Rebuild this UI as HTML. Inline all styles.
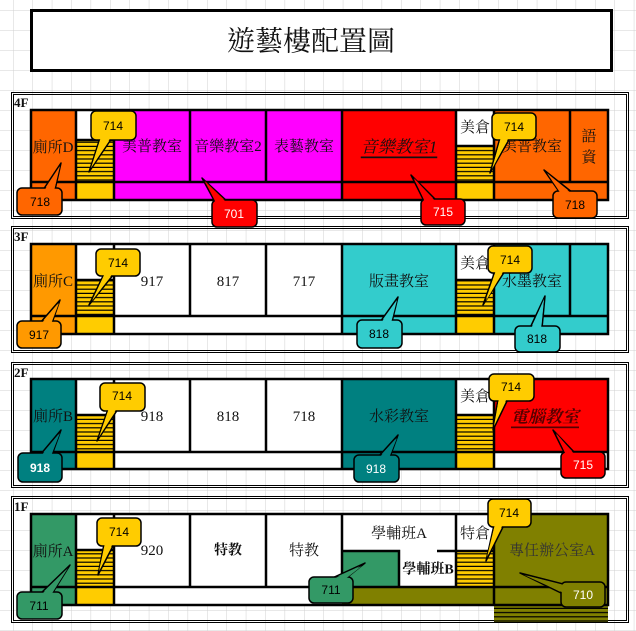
<!DOCTYPE html>
<html><head><meta charset="utf-8"><style>
html,body{margin:0;padding:0;background:#fff}
svg{display:block}
.r{font-family:"Liberation Serif","Noto Serif CJK TC","Noto Serif CJK SC",serif;font-size:15px;fill:#111;text-anchor:middle;dominant-baseline:central}
.n{font-family:"Liberation Sans","DejaVu Sans",sans-serif;font-size:12px;text-anchor:middle;dominant-baseline:central}
.fl{font-family:"Liberation Serif",serif;font-size:13px;font-weight:bold;fill:#111}
</style></head><body>
<svg width="636" height="631" viewBox="0 0 636 631" xmlns="http://www.w3.org/2000/svg">
<defs>
<pattern id="g" x="13" y="10" width="19.4" height="20" patternUnits="userSpaceOnUse"><path d="M0 0V20M0 0H19.4" stroke="#d0d0d0" stroke-width="1" fill="none"/></pattern>
<pattern id="h" x="0" y="0" width="4" height="4.2" patternUnits="userSpaceOnUse"><rect width="4" height="4.2" fill="#FFCC00"/><rect y="3" width="4" height="1.2" fill="#000"/></pattern>
<pattern id="ho" x="0" y="0" width="4" height="4.2" patternUnits="userSpaceOnUse"><rect width="4" height="4.2" fill="#808000"/><rect y="3" width="4" height="1.2" fill="#000"/></pattern>
</defs>
<rect width="636" height="631" fill="#fff"/>
<rect width="636" height="631" fill="url(#g)"/>
<rect x="31.5" y="10.5" width="580" height="60" fill="#fff" stroke="#000" stroke-width="3"/>
<text x="311" y="42" class="r" style="font-size:28px">遊藝樓配置圖</text>
<g fill="none" stroke="#000" stroke-width="1">
<rect x="11.5" y="92.5" width="617" height="126"/><rect x="13.5" y="94.5" width="613" height="122"/>
<rect x="11.5" y="226.5" width="617" height="126"/><rect x="13.5" y="228.5" width="613" height="122"/>
<rect x="11.5" y="362.5" width="617" height="125"/><rect x="13.5" y="364.5" width="613" height="121"/>
<rect x="11.5" y="496.5" width="617" height="126"/><rect x="13.5" y="498.5" width="613" height="122"/>
</g>
<text x="14" y="107" class="fl">4F</text>
<text x="14" y="241" class="fl">3F</text>
<text x="14" y="377" class="fl">2F</text>
<text x="14" y="511" class="fl">1F</text>

<!-- 4F -->
<rect x="31" y="110" width="577" height="90" fill="#fff"/>
<rect x="31" y="110" width="45" height="90" fill="#FF6600"/>
<rect x="76" y="140" width="38" height="42" fill="url(#h)"/><rect x="76" y="182" width="38" height="18" fill="#FFCC00"/>
<rect x="114" y="110" width="228" height="90" fill="#FF00FF"/>
<rect x="342" y="110" width="114" height="90" fill="#FF0000"/>
<rect x="456" y="146" width="38" height="36" fill="url(#h)"/><rect x="456" y="182" width="38" height="18" fill="#FFCC00"/>
<rect x="494" y="110" width="114" height="90" fill="#FF6600"/>
<g stroke="#000" stroke-width="2.5" fill="none">
<rect x="31" y="110" width="577" height="90"/>
<path d="M76 110V200M114 110V200M190 110V182M266 110V182M342 110V200M456 110V200M494 110V200M570 110V182M31 182H608M76 140H114M456 146H494"/>
</g>
<text class="r" x="53" y="148">廁所D</text>
<text class="r" x="152" y="147">美普教室</text>
<text class="r" x="228" y="147">音樂教室2</text>
<text class="r" x="304" y="147">表藝教室</text>
<text class="r" x="399" y="147" style="font-size:17px;font-style:italic;text-decoration:underline">音樂教室1</text>
<text class="r" x="475" y="128">美倉</text>
<text class="r" x="532" y="147">美普教室</text>
<text class="r" x="589" y="137">語</text><text class="r" x="589" y="158">資</text>

<!-- 3F -->
<rect x="31" y="244" width="577" height="90" fill="#fff"/>
<rect x="31" y="244" width="45" height="90" fill="#FF9900"/>
<rect x="76" y="280" width="38" height="36" fill="url(#h)"/><rect x="76" y="316" width="38" height="18" fill="#FFCC00"/>
<rect x="342" y="244" width="114" height="90" fill="#33CCCC"/>
<rect x="456" y="280" width="38" height="36" fill="url(#h)"/><rect x="456" y="316" width="38" height="18" fill="#FFCC00"/>
<rect x="494" y="244" width="114" height="90" fill="#33CCCC"/>
<g stroke="#000" stroke-width="2.5" fill="none">
<rect x="31" y="244" width="577" height="90"/>
<path d="M76 244V334M114 244V334M190 244V316M266 244V316M342 244V334M456 244V334M494 244V334M570 244V316M31 316H608M76 280H114M456 280H494"/>
</g>
<text class="r" x="53" y="282">廁所C</text>
<text class="r" x="152" y="282">917</text>
<text class="r" x="228" y="282">817</text>
<text class="r" x="304" y="282">717</text>
<text class="r" x="399" y="282">版畫教室</text>
<text class="r" x="475" y="264">美倉</text>
<text class="r" x="532" y="282">水墨教室</text>

<!-- 2F -->
<rect x="31" y="379" width="577" height="90" fill="#fff"/>
<rect x="31" y="379" width="45" height="90" fill="#008080"/>
<rect x="76" y="415" width="38" height="37" fill="url(#h)"/><rect x="76" y="452" width="38" height="17" fill="#FFCC00"/>
<rect x="342" y="379" width="114" height="90" fill="#008080"/>
<rect x="456" y="415" width="38" height="37" fill="url(#h)"/><rect x="456" y="452" width="38" height="17" fill="#FFCC00"/>
<rect x="494" y="379" width="114" height="73" fill="#FF0000"/>
<g stroke="#000" stroke-width="2.5" fill="none">
<rect x="31" y="379" width="577" height="90"/>
<path d="M76 379V469M114 379V469M190 379V452M266 379V452M342 379V469M456 379V469M494 379V469M31 452H608M76 415H114M456 415H494"/>
</g>
<text class="r" x="53" y="417">廁所B</text>
<text class="r" x="152" y="417">918</text>
<text class="r" x="228" y="417">818</text>
<text class="r" x="304" y="417">718</text>
<text class="r" x="399" y="417">水彩教室</text>
<text class="r" x="475" y="397">美倉</text>
<text class="r" x="545" y="417" style="font-size:17px;font-style:italic;font-weight:bold;text-decoration:underline;fill:#500">電腦教室</text>

<!-- 1F -->
<rect x="31" y="514" width="577" height="91" fill="#fff"/>
<rect x="31" y="514" width="45" height="91" fill="#339966"/>
<rect x="76" y="550" width="38" height="37" fill="url(#h)"/><rect x="76" y="587" width="38" height="18" fill="#FFCC00"/>
<rect x="342" y="551" width="57" height="36" fill="#339966"/>
<rect x="456" y="551" width="38" height="36" fill="url(#h)"/>
<rect x="342" y="587" width="266" height="18" fill="#808000"/>
<rect x="494" y="514" width="114" height="91" fill="#808000"/>
<rect x="494" y="605" width="114" height="17" fill="url(#ho)"/>
<g stroke="#000" stroke-width="2.5" fill="none">
<rect x="31" y="514" width="577" height="91"/>
<path d="M76 514V605M114 514V605M190 514V587M266 514V587M342 514V587M456 514V587M494 514V605M31 587H608M76 550H114M456 551H494M342 551H399V587M437 551H456"/>
</g>
<text class="r" x="53" y="552">廁所A</text>
<text class="r" x="152" y="551">920</text>
<text class="r" x="228" y="551" style="font-weight:bold;font-size:14px">特教</text>
<text class="r" x="304" y="551">特教</text>
<text class="r" x="399" y="534">學輔班A</text>
<text class="r" x="428" y="570" style="font-weight:bold;font-size:14px">學輔班B</text>
<text class="r" x="475" y="534">特倉</text>
<text class="r" x="552" y="551" style="fill:#333">專任辦公室A</text>

<g stroke="#000" stroke-width="1.5" stroke-linejoin="round">
<polygon points="100,138 112,138 89,172" fill="#FFCC00"/><rect x="91" y="111" width="45" height="29" rx="5" fill="#FFCC00"/><polygon points="101,137 111,137 91,168" fill="#FFCC00" stroke="none"/>
<polygon points="43,190 55,190 61,163" fill="#FF6600"/><rect x="17" y="188" width="45" height="27" rx="5" fill="#FF6600"/><polygon points="44,191 54,191 60,166" fill="#FF6600" stroke="none"/>
<polygon points="215,202 228,202 202,178" fill="#FF0000"/><rect x="212" y="200" width="45" height="27" rx="5" fill="#FF0000"/><polygon points="216,203 227,203 205,181" fill="#FF0000" stroke="none"/>
<polygon points="424,201 437,201 411,175" fill="#FF0000"/><rect x="421" y="199" width="44" height="26" rx="5" fill="#FF0000"/><polygon points="425,202 436,202 414,178" fill="#FF0000" stroke="none"/>
<polygon points="500,138 510,138 490,173" fill="#FFCC00"/><rect x="492" y="113" width="44" height="27" rx="5" fill="#FFCC00"/><polygon points="501,137 509,137 492,169" fill="#FFCC00" stroke="none"/>
<polygon points="560,193 573,193 544,170" fill="#FF6600"/><rect x="553" y="191" width="44" height="27" rx="5" fill="#FF6600"/><polygon points="561,194 572,194 547,173" fill="#FF6600" stroke="none"/>
<polygon points="104,274 114,274 89,305" fill="#FFCC00"/><rect x="96" y="249" width="44" height="27" rx="5" fill="#FFCC00"/><polygon points="105,273 113,273 92,301" fill="#FFCC00" stroke="none"/>
<polygon points="40,323 52,323 60,300" fill="#FF9900"/><rect x="17" y="321" width="44" height="27" rx="5" fill="#FF9900"/><polygon points="41,324 51,324 59,303" fill="#FF9900" stroke="none"/>
<polygon points="380,322 392,322 398,297" fill="#33CCCC"/><rect x="357" y="320" width="45" height="28" rx="5" fill="#33CCCC"/><polygon points="381,323 391,323 397,300" fill="#33CCCC" stroke="none"/>
<polygon points="495,271 505,271 483,305" fill="#FFCC00"/><rect x="488" y="246" width="44" height="27" rx="5" fill="#FFCC00"/><polygon points="496,270 504,270 486,301" fill="#FFCC00" stroke="none"/>
<polygon points="530,328 542,328 545,296" fill="#33CCCC"/><rect x="515" y="326" width="45" height="26" rx="5" fill="#33CCCC"/><polygon points="531,329 541,329 544,299" fill="#33CCCC" stroke="none"/>
<polygon points="108,409 118,409 97,441" fill="#FFCC00"/><rect x="100" y="383" width="45" height="28" rx="5" fill="#FFCC00"/><polygon points="109,408 117,408 99,437" fill="#FFCC00" stroke="none"/>
<polygon points="40,455 52,455 61,430" fill="#008080"/><rect x="18" y="453" width="44" height="29" rx="5" fill="#008080"/><polygon points="41,456 51,456 60,433" fill="#008080" stroke="none"/>
<polygon points="378,457 390,457 398,435" fill="#008080"/><rect x="354" y="455" width="45" height="27" rx="5" fill="#008080"/><polygon points="379,458 389,458 397,438" fill="#008080" stroke="none"/>
<polygon points="498,399 508,399 493,430" fill="#FFCC00"/><rect x="489" y="374" width="45" height="27" rx="5" fill="#FFCC00"/><polygon points="499,398 507,398 494,426" fill="#FFCC00" stroke="none"/>
<polygon points="565,454 576,454 553,430" fill="#FF0000"/><rect x="561" y="452" width="44" height="26" rx="5" fill="#FF0000"/><polygon points="566,455 575,455 556,433" fill="#FF0000" stroke="none"/>
<polygon points="104,544 114,544 98,575" fill="#FFCC00"/><rect x="97" y="518" width="44" height="28" rx="5" fill="#FFCC00"/><polygon points="105,543 113,543 99,571" fill="#FFCC00" stroke="none"/>
<polygon points="40,594 52,594 70,565" fill="#339966"/><rect x="17" y="592" width="45" height="27" rx="5" fill="#339966"/><polygon points="41,595 51,595 68,568" fill="#339966" stroke="none"/>
<polygon points="330,579 345,579 365,563" fill="#339966"/><rect x="309" y="577" width="44" height="26" rx="5" fill="#339966"/><polygon points="331,580 344,580 362,566" fill="#339966" stroke="none"/>
<polygon points="494,525 504,525 486,561" fill="#FFCC00"/><rect x="488" y="499" width="43" height="28" rx="5" fill="#FFCC00"/><polygon points="495,524 503,524 487,557" fill="#FFCC00" stroke="none"/>
<polygon points="563,584 563,594 520,573" fill="#808000"/><rect x="561" y="582" width="44" height="25" rx="5" fill="#808000"/><polygon points="564,585 564,593 524,575" fill="#808000" stroke="none"/>
</g>
<g class="n">
<text class="n" x="113" y="126">714</text>
<text class="n" x="40" y="202">718</text>
<text class="n" x="234" y="214" fill="#fff">701</text>
<text class="n" x="443" y="212" fill="#fff">715</text>
<text class="n" x="514" y="127">714</text>
<text class="n" x="575" y="205">718</text>
<text class="n" x="118" y="263">714</text>
<text class="n" x="39" y="335">917</text>
<text class="n" x="379" y="334">818</text>
<text class="n" x="510" y="260">714</text>
<text class="n" x="537" y="339">818</text>
<text class="n" x="122" y="396">714</text>
<text class="n" x="40" y="468" fill="#fff" style="font-weight:bold">918</text>
<text class="n" x="376" y="469" fill="#fff">918</text>
<text class="n" x="511" y="387">714</text>
<text class="n" x="583" y="465" fill="#fff">715</text>
<text class="n" x="119" y="532">714</text>
<text class="n" x="39" y="606">711</text>
<text class="n" x="331" y="590">711</text>
<text class="n" x="509" y="513">714</text>
<text class="n" x="583" y="595" fill="#fff">710</text>
</g>
</svg>
</body></html>
